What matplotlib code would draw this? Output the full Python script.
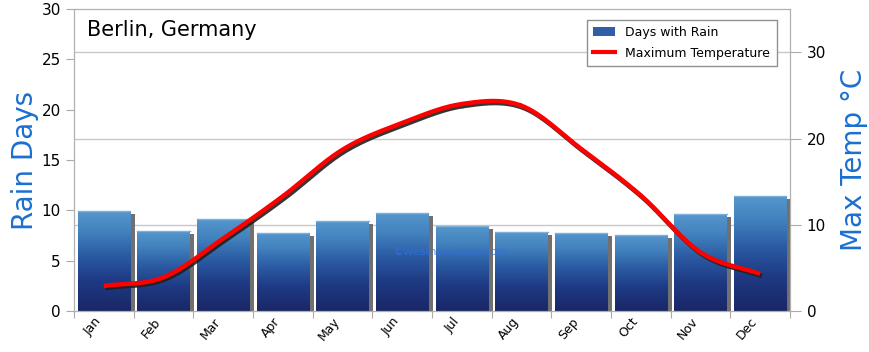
import numpy as np
import matplotlib
matplotlib.use('Agg')
import matplotlib.pyplot as plt
import matplotlib.patheffects as pe
from matplotlib.colors import LinearSegmentedColormap
from matplotlib.patches import Rectangle, Patch
from matplotlib.lines import Line2D

# Data
months = ['Jan', 'Feb', 'Mar', 'Apr', 'May', 'Jun', 'Jul', 'Aug', 'Sep', 'Oct', 'Nov', 'Dec']
rain_days = [9.9, 8.0, 9.1, 7.8, 8.9, 9.7, 8.4, 7.9, 7.8, 7.6, 9.6, 11.4]
max_temp = [2.9, 3.9, 8.4, 13.3, 18.7, 21.8, 24.0, 23.8, 18.8, 13.4, 6.8, 4.3]
rain_ticks = [0, 5, 10, 15, 20, 25, 30]
temp_ticks = [0, 10, 20, 30]

blue_label = '#1a6fd0'
grid_col = '#c8c8c8'

fig = plt.figure(figsize=(8.7, 3.52), dpi=100)
ax = fig.add_axes([0.085, 0.1165, 0.823, 0.8575])
ax2 = ax.twinx()

ax.set_xlim(0, 12)
ax.set_ylim(0, 30)
ax2.set_ylim(0, 35)

# horizontal gridlines follow the temperature axis
for t in temp_ticks[1:]:
    ax.axhline(t * 30 / 35, color=grid_col, lw=1, zorder=0)

cmap = LinearSegmentedColormap.from_list(
    'rain', [(0, '#1a2766'), (0.3, '#1e3a84'), (0.55, '#2a5aa2'), (0.8, '#4282be'), (1, '#5596cc')])
bw = 0.88
x = np.arange(len(months)) + 0.5
for xi, h in zip(x, rain_days):
    x0 = xi - bw / 2
    # shadow
    ax.add_patch(Rectangle((x0 + 0.075, 0), bw, h - 0.3, color='#707070', zorder=1, lw=0))
    grad = np.linspace(1, 0, 100).reshape(-1, 1)
    im = ax.imshow(grad, extent=[x0, x0 + bw, 0, h], cmap=cmap, vmin=0, vmax=1,
                   aspect='auto', zorder=2, interpolation='bilinear')
    rect = Rectangle((x0, 0), bw, h, transform=ax.transData, fill=False, lw=0)
    ax.add_patch(rect)
    im.set_clip_path(rect)
    ax.plot([x0, x0 + bw], [h, h], color='#7fb0dc', lw=1, zorder=3)

ax.set_xlim(0, 12)
ax.set_ylim(0, 30)

# smooth temperature curve (Catmull-Rom through the monthly values)
px = np.concatenate([[x[0] - 1], x, [x[-1] + 1]])
py = np.concatenate([[2 * max_temp[0] - max_temp[1]], max_temp, [2 * max_temp[-1] - max_temp[-2]]])
sx, sy = [], []
s = np.linspace(0, 1, 20)
for i in range(1, len(px) - 2):
    for arr, out in ((px, sx), (py, sy)):
        p0, p1, p2, p3 = arr[i - 1], arr[i], arr[i + 1], arr[i + 2]
        out.extend(0.5 * ((2 * p1) + (-p0 + p2) * s + (2 * p0 - 5 * p1 + 4 * p2 - p3) * s ** 2
                          + (-p0 + 3 * p1 - 3 * p2 + p3) * s ** 3))
ax2.plot(sx, sy, color='#ff0000', lw=3.2, solid_capstyle='butt', zorder=5,
         path_effects=[pe.SimpleLineShadow(offset=(1.2, -1.5), shadow_color='#202020', alpha=0.9),
                       pe.Normal()])

# axes styling
ax.set_xticks(np.arange(13))
ax.set_xticklabels([])
ax.set_xticks(x, minor=True)
ax.set_xticklabels(months, minor=True, rotation=50, ha='right', va='top', fontsize=9)
ax.tick_params(axis='x', which='minor', length=0, pad=3)
ax.tick_params(axis='x', which='major', length=5, color='#aaaaaa')
ax.set_yticks(rain_ticks)
ax.tick_params(axis='y', length=6, color='#aaaaaa', labelsize=11)
ax2.set_yticks(temp_ticks)
ax2.tick_params(axis='y', length=8, color='#aaaaaa', labelsize=11, pad=4)
for a in (ax, ax2):
    for sp in a.spines.values():
        sp.set_color('#b0b0b0')

ax.set_ylabel('Rain Days', color=blue_label, fontsize=20, labelpad=2)
ax2.set_ylabel('Max Temp °C', color=blue_label, fontsize=20, labelpad=10)

ax.text(0.018, 0.93, 'Berlin, Germany', transform=ax.transAxes, fontsize=15, va='center', ha='left')
ax.text(5.35, 5.9, '©Weather-Guide.com', color='#2f6fe8', alpha=0.8, fontsize=7.5,
        va='center', zorder=4)

handles = [Patch(facecolor='#2f5fa5', edgecolor='none'),
           Line2D([], [], color='#ff0000', lw=3)]
ax2.legend(handles, ['Days with Rain', 'Maximum Temperature'], loc='upper right',
           bbox_to_anchor=(0.99, 0.985), fontsize=9, frameon=True, fancybox=False,
           edgecolor='#909090', framealpha=1, handlelength=1.8, borderpad=0.5, labelspacing=0.6)

fig.savefig('out.png', dpi=100)
